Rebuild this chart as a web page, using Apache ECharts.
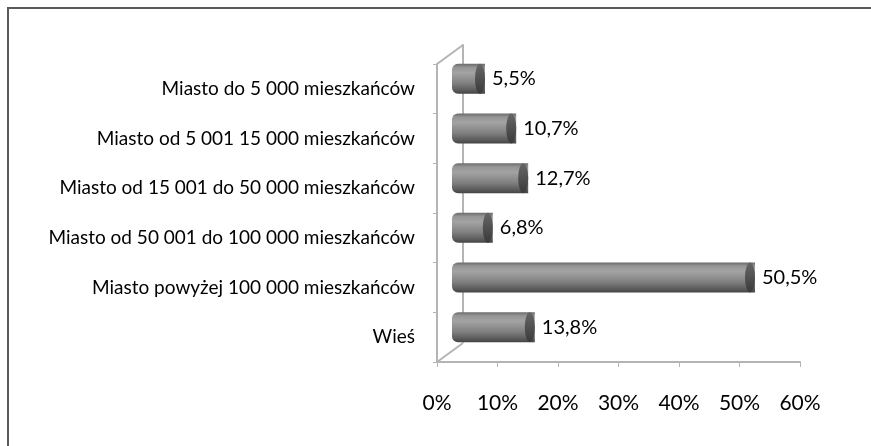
<!DOCTYPE html>
<head>
    <meta charset="utf-8">
    <title>ECharts</title>
    <script type="text/javascript" src="https://cdn.jsdelivr.net/npm/echarts@6/dist/echarts.min.js"></script>
</head>

<body style="margin:0">
<div id="main" style="width:871px;height:446px"></div>

<script type="text/javascript">

    // kategorie od góry do dołu
    var categories = [
        'Miasto do 5 000 mieszkańców',
        'Miasto od 5 001 15 000 mieszkańców',
        'Miasto od 15 001 do 50 000 mieszkańców',
        'Miasto od 50 001 do 100 000 mieszkańców',
        'Miasto powyżej 100 000 mieszkańców',
        'Wieś'
    ];
    var values = [5.5, 10.7, 12.7, 6.8, 50.5, 13.8];
    var axisTicks = [0, 10, 20, 30, 40, 50, 60];

    // przednia płaszczyzna osi i tylna ściana (efekt 3D)
    var front = {left: 437, top: 64, width: 363, height: 298};
    var depthX = 26, depthY = -19;
    var wallColor = '#b4b4b4';
    var fontFamily = 'Lato, "Liberation Sans", sans-serif';

    var myChart = echarts.init(document.getElementById('main'));

    var option = {
        backgroundColor: '#fff',
        animation: false,
        textStyle: {fontFamily: fontFamily},
        grid: [
            {left: front.left, top: front.top, width: front.width, height: front.height},
            {left: 452, top: 54, width: 360, height: front.height},
            {left: front.left + depthX, top: front.top + depthY, width: 300, height: front.height - 1}
        ],
        xAxis: [
            {
                gridIndex: 0, type: 'value',
                min: axisTicks[0], max: axisTicks[axisTicks.length - 1], interval: 10,
                axisLine: {show: true, lineStyle: {color: wallColor, width: 2}},
                axisTick: {show: true, inside: false, length: 5, lineStyle: {color: wallColor}},
                splitLine: {show: false},
                axisLabel: {formatter: '{value}%', color: '#000', fontSize: 21, margin: 31}
            },
            {gridIndex: 1, type: 'value', min: 0, max: 60, show: false},
            {gridIndex: 2, type: 'value', min: 0, max: 60, show: false}
        ],
        yAxis: [
            {
                gridIndex: 0, type: 'category', data: categories, inverse: true,
                axisLine: {show: true, lineStyle: {color: wallColor, width: 2}},
                axisTick: {show: true, length: 4, lineStyle: {color: wallColor}},
                axisLabel: {color: '#000', fontSize: 19, margin: 22}
            },
            {gridIndex: 1, type: 'category', data: categories, inverse: true, show: false},
            {
                gridIndex: 2, type: 'category', data: categories, inverse: true,
                axisLine: {show: true, lineStyle: {color: wallColor, width: 2}},
                axisTick: {show: false}, axisLabel: {show: false}
            }
        ],
        series: [
            {
                type: 'bar',
                xAxisIndex: 1, yAxisIndex: 1,
                data: values,
                barWidth: 30,
                itemStyle: {
                    borderRadius: [6, 0, 0, 6],
                    color: new echarts.graphic.LinearGradient(0, 0, 0, 1, [
                        {offset: 0, color: '#6a6a6a'},
                        {offset: 0.12, color: '#959595'},
                        {offset: 0.3, color: '#a3a3a3'},
                        {offset: 0.65, color: '#808080'},
                        {offset: 0.9, color: '#585858'},
                        {offset: 1, color: '#444'}
                    ])
                }
            },
            {
                // zakończenie walca
                type: 'pictorialBar',
                xAxisIndex: 1, yAxisIndex: 1,
                data: values,
                symbol: 'circle',
                symbolSize: [10, 30],
                symbolPosition: 'end',
                symbolOffset: [0, 0],
                z: 3,
                itemStyle: {
                    color: new echarts.graphic.LinearGradient(0, 0, 0, 1, [
                        {offset: 0, color: '#666'},
                        {offset: 0.4, color: '#555'},
                        {offset: 1, color: '#3a3a3a'}
                    ])
                },
                label: {
                    show: true, position: 'right', distance: 7,
                    color: '#000', fontSize: 20,
                    formatter: function (p) {
                        return String(p.value).replace('.', ',') + '%';
                    }
                }
            }
        ],
        graphic: [
            {
                type: 'rect', silent: true,
                shape: {x: 8, y: 8, width: 900, height: 500},
                style: {fill: 'none', stroke: '#5a5a5a', lineWidth: 2}
            },
            {
                type: 'polyline', silent: true,
                shape: {points: [[front.left, front.top], [front.left + depthX, front.top + depthY]]},
                style: {stroke: wallColor, lineWidth: 2, fill: 'none'}
            },
            {
                type: 'polyline', silent: true,
                shape: {points: [[front.left, front.top + front.height], [front.left + depthX, front.top + front.height + depthY]]},
                style: {stroke: wallColor, lineWidth: 2, fill: 'none'}
            }
        ]
    };

    myChart.setOption(option);

</script>
</body>
